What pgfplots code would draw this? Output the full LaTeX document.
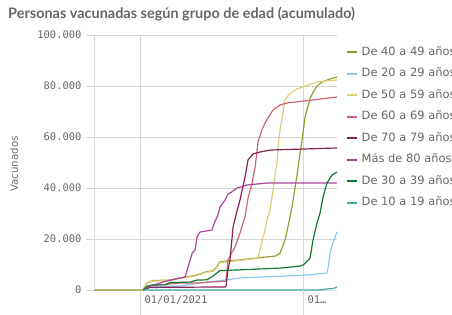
\documentclass[border=0pt]{standalone}
\usepackage{fontspec}
\setmainfont{Lato}
\newfontfamily\monof{DejaVu Sans Mono}
\newfontfamily\dejav{DejaVu Sans}
\usepackage{pgfplots}
\pgfplotsset{compat=1.18}
\definecolor{cOlive}{HTML}{999933}
\definecolor{cBlue}{HTML}{88CCEE}
\definecolor{cSand}{HTML}{DDCC77}
\definecolor{cRose}{HTML}{CC6677}
\definecolor{cWine}{HTML}{882255}
\definecolor{cPurple}{HTML}{AA4499}
\definecolor{cGreen}{HTML}{117733}
\definecolor{cTeal}{HTML}{44AA99}
\definecolor{gridc}{HTML}{D6D6D6}
\definecolor{txtc}{HTML}{666666}
\begin{document}
\begin{tikzpicture}
\useasboundingbox (0,0) rectangle (452bp,315bp);
\node[anchor=west, inner sep=0pt, text=txtc, font=\fontsize{14.5}{16}\selectfont\bfseries] at (8bp,301bp) {Personas vacunadas según grupo de edad (acumulado)};
\node[rotate=90, inner sep=0pt, text=txtc, font=\dejav\fontsize{10.2}{12}\selectfont] at (14bp,151bp) {Vacunados};
\begin{axis}[
  at={(94bp,25bp)}, anchor=south west, scale only axis,
  width=243bp, height=255bp,
  xmin=-51.1, xmax=218.7, ymin=0, ymax=100000,
  clip=false,
  scaled y ticks=false,
  axis y line*=left,
  axis x line*=bottom,
  x axis line style={draw=none},
  y axis line style={draw=gridc, line width=0.8bp, -},
  ytick={0,20000,40000,60000,80000,100000},
  yticklabels={0,20.000,40.000,60.000,80.000,100.000},
  xtick={0,181},
  xticklabels={01/01/2021,01\ldots},
  ymajorgrids, xmajorgrids,
  grid style={draw=gridc, line width=0.8bp},
  ytick style={draw=gridc, line width=0.8bp},
  xtick style={draw=none},
  ytick align=outside,
  xtick align=inside,
  major tick length=8bp,
  yticklabel style={font=\monof\fontsize{10.5}{12}\selectfont, text=txtc, xshift=-1bp},
  xticklabel style={font=\monof\fontsize{10.5}{12}\selectfont, text=txtc, anchor=north west, xshift=1bp, yshift=-2bp},
  every axis plot/.append style={line width=1.2bp, line join=round},
  legend cell align=left,
  legend style={draw=none, fill=none, at={(1,1)}, anchor=north west, xshift=9bp, yshift=-12bp,
    inner sep=0pt, row sep=11bp,
    nodes={inner ysep=0pt, inner xsep=3.5bp, text height=8bp, text depth=2.5bp, text=txtc, font=\dejav\fontsize{11.5}{12}\selectfont}},
  legend image code/.code={\draw[#1, line width=2bp] (0bp,0bp) -- (10bp,0bp);},
]
\addplot[cOlive] coordinates {(-51.1,0) (3.3,0) (7.8,2800) (14.4,3700) (33,3900) (44,4700) (55,5300) (63,5900) (74,7200) (81,7500) (85,9000) (88.8,11100) (111,11800) (130,12600) (150,13300) (152.1,13700) (155.5,14500) (161,19600) (165,26000) (168.8,32500) (172,40000) (174.3,45000) (177,52000) (179.9,58800) (183.2,67800) (188.8,75000) (192,77500) (196.5,80000) (202,81500) (207.6,82300) (213,83000) (218.7,83500)};
\addlegendentry{De 40 a 49 años}
\addplot[cBlue] coordinates {(3.3,0) (11.1,1200) (44.4,1570) (66.6,2750) (94.4,3920) (111,4710) (150,5300) (185.4,5880) (207.6,6670) (209,9000) (211,14500) (213.2,17500) (215.4,19600) (218.7,22800)};
\addlegendentry{De 20 a 29 años}
\addplot[cSand] coordinates {(3.3,0) (7.8,3000) (14.4,3500) (33,3700) (44,4500) (55,5100) (63,5700) (74,7000) (81,7300) (85,8700) (88.8,10800) (111,11600) (130,12400) (131,12550) (133.2,16000) (136,20000) (138.8,23500) (141,27500) (144,31000) (146.6,36500) (150,45000) (152.1,49800) (153.2,56000) (155.5,62750) (158,68000) (161,74500) (165,76500) (168.8,77650) (175,79000) (181,79600) (190,80800) (196.5,81570) (207,82000) (218.7,82350)};
\addlegendentry{De 50 a 59 años}
\addplot[cRose] coordinates {(3.3,0) (11.1,1600) (44.4,2750) (66.6,2750) (77.7,3140) (88.8,3300) (95.5,3500) (97.7,11760) (101,14000) (105.5,16860) (111,22350) (116.6,28630) (119.9,36000) (124.4,42000) (127.7,48000) (131,58000) (135.5,63000) (138.8,65500) (142.1,67450) (147.7,70590) (155.5,72550) (163,73330) (192,74500) (218.7,75690)};
\addlegendentry{De 60 a 69 años}
\addplot[cWine] coordinates {(3.3,0) (11.1,1000) (94.4,1200) (95.5,1570) (97.7,8000) (99.9,11760) (103.3,24710) (107,30000) (111,35290) (116.6,44310) (119.9,50980) (125.5,53330) (133.2,54120) (145,54900) (218.7,55690)};
\addlegendentry{De 70 a 79 años}
\addplot[cPurple] coordinates {(3.3,0) (11.1,1500) (25.5,3140) (44.4,4710) (50,5100) (53.3,9000) (58,14500) (61.1,15700) (63.3,20800) (66.6,22750) (79.9,23530) (83.3,27000) (86,29000) (88.8,32550) (94.4,35290) (97.7,37600) (102,38500) (107.7,40000) (118.8,41180) (141,41960) (218.7,42000)};
\addlegendentry{Más de 80 años}
\addplot[cGreen] coordinates {(3.3,0) (7.8,1500) (14.4,2000) (27.8,2000) (33.3,2900) (55.5,3100) (63.3,3900) (74.4,4000) (81.1,5500) (88.8,7600) (111,7900) (155.5,8600) (177.7,9400) (181,9800) (185,11000) (188.8,12550) (192.1,19600) (196.5,26270) (199.9,30200) (203.2,36470) (207.6,41960) (213.2,45100) (218.7,46270)};
\addlegendentry{De 30 a 39 años}
\addplot[cTeal] coordinates {(3.3,0) (199.9,0) (207.6,400) (215,600) (218.7,1200)};
\addlegendentry{De 10 a 19 años}
\draw[gridc, line width=0.8bp] (axis cs:0,0) -- ([yshift=-25bp]axis cs:0,0);
\draw[gridc, line width=0.8bp] (axis cs:181,0) -- ([yshift=-25bp]axis cs:181,0);
\end{axis}
\end{tikzpicture}
\end{document}
